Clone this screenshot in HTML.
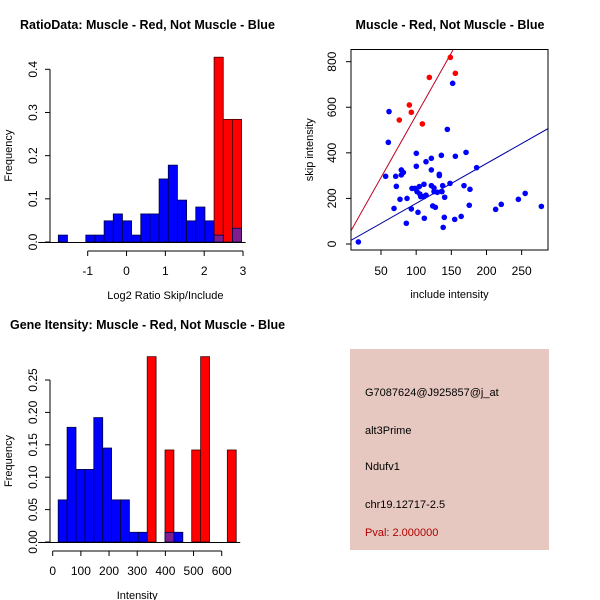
<!DOCTYPE html>
<html><head><meta charset="utf-8"><style>
body{margin:0;background:#fff;}
svg{display:block;font-family:"Liberation Sans",sans-serif;}
</style></head><body>
<svg id="s" width="600" height="600" xmlns="http://www.w3.org/2000/svg">
<rect x="0" y="0" width="600" height="600" fill="#fff"/>
<text x="20" y="29" font-size="12.5" font-weight="bold">RatioData: Muscle - Red, Not Muscle - Blue</text>
<text x="450" y="29" font-size="12.5" font-weight="bold" text-anchor="middle">Muscle - Red, Not Muscle - Blue</text>
<text x="10" y="329" font-size="12.5" font-weight="bold">Gene Itensity: Muscle - Red, Not Muscle - Blue</text>
<g>
<rect x="350" y="349" width="199" height="201" fill="#e6c8c0"/>
<text x="365" y="396" font-size="11">G7087624@J925857@j_at</text>
<text x="365" y="434" font-size="11">alt3Prime</text>
<text x="365" y="470" font-size="11">Ndufv1</text>
<text x="365" y="508" font-size="11">chr19.12717-2.5</text>
<text x="365" y="536" font-size="11" fill="#b00000">Pval: 2.000000</text>
</g>
<g id="g1"></g><g id="g2"></g><g id="g3"></g>
</svg>
<script>
// Histogram 1 data
const ratioBreaks = [-1.757,-1.521,-1.285,-1.049,-0.813,-0.577,-0.341,-0.105,0.131,0.367,0.603,0.839,1.075,1.311,1.547,1.783,2.019,2.255,2.491,2.727,2.963];
const ratioBlue = [0.016,0,0,0.016,0.016,0.049,0.065,0.049,0.016,0.065,0.065,0.146,0.178,0.097,0.049,0.081,0.049,0.016,0,0.032];
const ratioRed  = [0,0,0,0,0,0,0,0,0,0,0,0,0,0,0,0,0,0.428,0.284,0.284];
const ratioXTicks = [-1,0,1,2,3];
const ratioYTicks = [0,0.1,0.2,0.3,0.4];
const ratioYLabels = ["0.0","0.1","0.2","0.3","0.4"];
// Scatter data
const blueX = [17.8,151.9,61.4,60.4,144.3,100.2,100.2,114,121.6,135.8,155.7,170.9,186,78.9,81.8,78.9,56.6,70.9,71.8,132.9,132.9,121.6,94.1,98.3,101.2,104.5,111.1,121.6,125.4,137.7,148.1,168,176.5,77,87,105.3,114,106.5,111.1,125.4,130.1,136.7,140.5,68.5,93.1,102.6,123.5,127.3,175.5,111.6,140,164,154.8,138.4,86,213,221,245.3,255,278];
const blueY = [9,705,581,446,503,398,341,361,376,389,385,402,335,325,314,303,297,297,253,306,300,325,244,244,230,252,262,256,246,256,266,256,240,196,200,219,214,208,208,230,227,230,205,156,154,139,167,161,170,113,117,121,108,73,91,152,174,196,222,165];
const redX = [148.6,155.7,118.7,90.3,93.1,76,108.8];
const redY = [819,749,731,610,578,544,527];
const fitIntercept = [18,3.2];
const fitSlope = [5.47,1.75];
const scatXTicks = [50,100,150,200,250];
const scatYTicks = [0,200,400,600,800];
// Histogram 3 data
const intBreaks = [19.5,51.1,82.7,114.3,145.9,177.5,209.1,240.7,272.3,303.9,335.5,367.1,398.7,430.3,461.9,493.5,525.1,556.7,588.3,619.9,651.5];
const intBlue = [0.065,0.177,0.112,0.112,0.192,0.145,0.065,0.065,0.015,0.015,0,0,0.015,0.015,0,0,0,0,0,0];
const intRed  = [0,0,0,0,0,0,0,0,0,0,0.286,0,0.142,0,0,0.142,0.286,0,0,0.142];
const intXTicks = [0,100,200,300,400,500,600];
const intYTicks = [0,0.05,0.1,0.15,0.2,0.25];
const intYLabels = ["0.00","0.05","0.10","0.15","0.20","0.25"];

const NS="http://www.w3.org/2000/svg";
function mk(parent,tag,attrs){const e=document.createElementNS(NS,tag);for(const k in attrs)e.setAttribute(k,attrs[k]);parent.appendChild(e);return e;}
function txt(parent,x,y,s,extra){const t=mk(parent,'text',Object.assign({x:x,y:y,'font-size':12},extra||{}));t.textContent=s;return t;}
function line(p,x1,y1,x2,y2,c){return mk(p,'line',{x1:x1,y1:y1,x2:x2,y2:y2,stroke:c||'#000','stroke-width':1});}

function hist(g,breaks,blue,red,xs,ys,xTicks,yTicks,yLabels,xlab,prefix){
  const y0=ys(0);
  for(let i=0;i<red.length;i++){
    if(red[i]>0){
      const r=mk(g,'rect',{x:xs(breaks[i]),y:ys(red[i]),width:xs(breaks[i+1])-xs(breaks[i]),height:y0-ys(red[i]),fill:'#ff0000',stroke:'#400000','stroke-width':0.8});
      
      
    }
  }
  for(let i=0;i<blue.length;i++){
    if(blue[i]>0){
      const r=mk(g,'rect',{x:xs(breaks[i]),y:ys(blue[i]),width:xs(breaks[i+1])-xs(breaks[i]),height:y0-ys(blue[i]),fill:red[i]>0?'#7f1f8f':'#0000ff',stroke:'#000040','stroke-width':0.8});
      
      
    }
  }
  line(g,xs(breaks[0])-20,y0+0.5,xs(breaks[breaks.length-1])+4,y0+0.5);
  const yax=mk(g,'g',{});
  
  
  const ax=50;
  line(yax,ax,ys(yTicks[0]),ax,ys(yTicks[yTicks.length-1]));
  yTicks.forEach((v,i)=>{line(yax,ax-5,ys(v),ax,ys(v));
    txt(yax,ax-13,ys(v),yLabels[i],{transform:`rotate(-90 ${ax-13} ${ys(v)})`,'text-anchor':'middle'});});
  const xax=mk(g,'g',{});
  
  
  const ay=y0+9;
  line(xax,xs(xTicks[0]),ay,xs(xTicks[xTicks.length-1]),ay);
  xTicks.forEach(v=>{line(xax,xs(v),ay,xs(v),ay+5);txt(xax,xs(v),ay+24,String(v),{'text-anchor':'middle'});});
  const xl=txt(g,(xs(xTicks[0])+xs(xTicks[xTicks.length-1]))/2,ay+48,xlab,{'text-anchor':'middle','font-size':11});
  
  
  const cy=(ys(yTicks[0])+ys(yTicks[yTicks.length-1]))/2;
  const yl=txt(g,12,cy,'Frequency',{'text-anchor':'middle','font-size':11,transform:`rotate(-90 12 ${cy})`});
  
  
}

const g1=document.getElementById('g1');


hist(g1,ratioBreaks,ratioBlue,ratioRed,v=>87.7+(v+1)*38.83,v=>242-v*431.75,ratioXTicks,ratioYTicks,ratioYLabels,'Log2 Ratio Skip/Include','ratio');

const g3=document.getElementById('g3');


hist(g3,intBreaks,intBlue,intRed,v=>52.7+v*0.2817,v=>542-v*648,intXTicks,intYTicks,intYLabels,'Intensity','intensity');

const g2=document.getElementById('g2');


const sx=v=>381+(v-50)*0.7033, sy=v=>244-v*0.2279;
const L=351,R=548,T=49.5,B=250;
const cp=mk(g2,'clipPath',{id:'cp'});mk(cp,'rect',{x:L,y:T,width:R-L,height:B-T});
const lg=mk(g2,'g',{'clip-path':'url(#cp)'});
const lineCols=['#c00020','#0000a0'];
const lineNames=['red-fit-line','blue-fit-line'];
for(let k=0;k<2;k++){
  const xa=0,xb=300;
  const l=line(lg,sx(xa),sy(fitIntercept[k]+fitSlope[k]*xa),sx(xb),sy(fitIntercept[k]+fitSlope[k]*xb),lineCols[k]);
  
  
}
for(let i=0;i<blueX.length;i++){
  const c=mk(g2,'circle',{cx:sx(blueX[i]),cy:sy(blueY[i]),r:2.8,fill:'#0000ff'});
  
  
}
for(let i=0;i<redX.length;i++){
  const c=mk(g2,'circle',{cx:sx(redX[i]),cy:sy(redY[i]),r:2.8,fill:'#ff0000'});
  
  
}
const fr=mk(g2,'rect',{x:L,y:T,width:R-L,height:B-T,fill:'none',stroke:'#000','stroke-width':1});


scatXTicks.forEach(v=>{line(g2,sx(v),B,sx(v),B+5);txt(g2,sx(v),B+25,String(v),{'text-anchor':'middle'});});
scatYTicks.forEach(v=>{line(g2,L-5,sy(v),L,sy(v));txt(g2,L-15,sy(v),String(v),{'text-anchor':'middle',transform:`rotate(-90 ${L-15} ${sy(v)})`});});
const sxl=txt(g2,(L+R)/2,B+48,'include intensity',{'text-anchor':'middle','font-size':11});


const syl=txt(g2,313,(T+B)/2,'skip intensity',{'text-anchor':'middle','font-size':11,transform:`rotate(-90 313 ${(T+B)/2})`});


</script>
</body></html>
